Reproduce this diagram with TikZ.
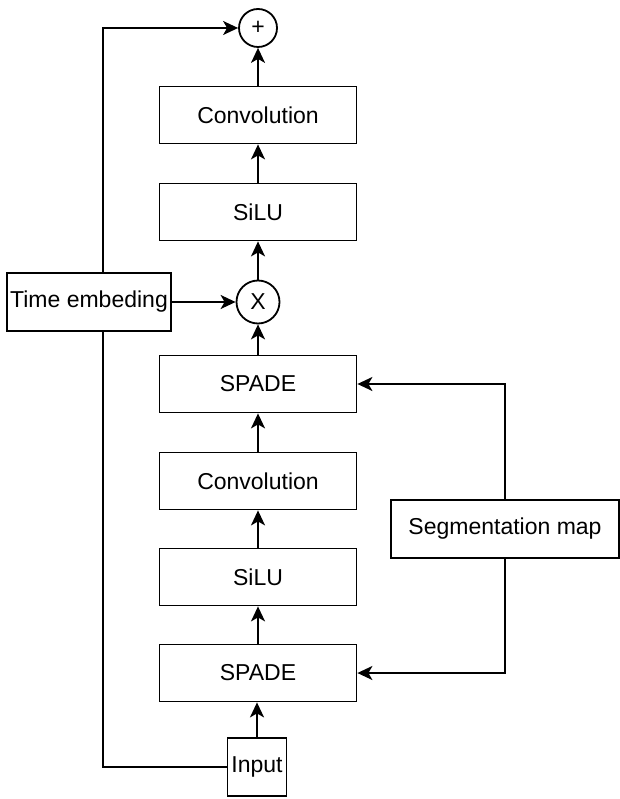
\documentclass[tikz,border=0pt]{standalone}
\usepackage{fontspec}
\setmainfont{Liberation Sans}
\usetikzlibrary{arrows.meta}

\begin{document}
\begin{tikzpicture}[x=1pt, y=-1pt, >={Stealth[length=15pt, width=14pt, inset=4pt]}, line width=1.8pt,
    font=\fontsize{23}{27}\selectfont,
    block/.style={draw, rectangle, minimum width=197pt, minimum height=57pt, inner sep=0pt},
    op/.style={draw, circle, inner sep=0pt}]
    \useasboundingbox (0, 0) rectangle (619, 799);

    % Main column
    \node[op, minimum size=38pt] (plus) at (258, 28) {+};
    \node[block] (conv1) at (258, 115) {Convolution};
    \node[block] (silu1) at (258, 212) {SiLU};
    \node[op, minimum size=43pt] (mult) at (258, 302) {X};
    \node[block] (spade2) at (258, 384) {SPADE};
    \node[block] (conv2) at (258, 481) {Convolution};
    \node[block] (silu2) at (258, 577) {SiLU};
    \node[block] (spade1) at (258, 673) {SPADE};
    \node[draw, minimum width=59pt, minimum height=58pt, inner sep=0pt] (input) at (257, 767) {Input};

    % Side inputs
    \node[draw, minimum width=164pt, minimum height=58pt, inner sep=0pt] (time) at (89, 302) {Time embeding};
    \node[draw, minimum width=228pt, minimum height=58pt, inner sep=0pt] (seg) at (505, 529) {Segmentation map};
    \coordinate (skip) at (103, 767);

    % Forward path
    \draw[->] (input) -- (input |- spade1.south);
    \draw[->] (spade1) -- (silu2);
    \draw[->] (silu2) -- (conv2);
    \draw[->] (conv2) -- (spade2);
    \draw[->] (spade2) -- (mult);
    \draw[->] (mult) -- (silu1);
    \draw[->] (silu1) -- (conv1);
    \draw[->] (conv1) -- (plus);

    % Time embedding and skip
    \draw[->] (time) -- (mult);
    \draw (input.west) -- (skip) -- (skip |- time.south);
    \draw[->] (skip |- time.north) |- (plus.west);

    % Segmentation map
    \draw[->] (seg.north) |- (spade2.east);
    \draw[->] (seg.south) |- (spade1.east);
\end{tikzpicture}
\end{document}
